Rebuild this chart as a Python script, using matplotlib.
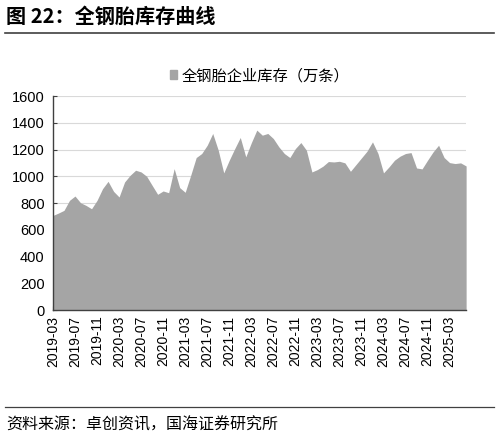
import numpy as np
import matplotlib
matplotlib.use('Agg')
import matplotlib.pyplot as plt
from matplotlib.patches import Patch

plt.rcParams['font.family'] = ['Liberation Sans', 'Noto Sans CJK SC', 'DejaVu Sans']

# 月份: 2019-03 ~ 2025-06
months = []
for y in range(2019, 2026):
    for m in range(1, 13):
        if (y == 2019 and m < 3) or (y == 2025 and m > 6):
            continue
        months.append(f'{y}-{m:02d}')

# 全钢胎企业库存 (万条)
inventory = [
    707, 725, 745, 820, 852, 802, 782, 757, 820, 907,
    962, 887, 845, 957, 1007, 1045, 1032, 1000, 932, 865,
    890, 877, 1057, 915, 880, 1007, 1140, 1170, 1232, 1320,
    1195, 1025, 1120, 1207, 1290, 1145, 1250, 1345, 1307, 1320,
    1282, 1220, 1170, 1140, 1207, 1252, 1195, 1032, 1050, 1075,
    1110, 1107, 1112, 1100, 1037, 1087, 1137, 1187, 1257, 1170,
    1025, 1070, 1120, 1150, 1170, 1177, 1062, 1055, 1120, 1182,
    1232, 1140, 1102, 1095, 1100, 1077,
]

fig = plt.figure(figsize=(4.98, 4.37), dpi=100)
ax = fig.add_axes([0.1064, 0.2906, 0.8296, 0.4897])

x = np.arange(len(months))
ax.fill_between(x, inventory, 0, color='#a5a5a5', linewidth=0, zorder=2)

ax.set_xlim(0, len(months) - 1)
ax.set_ylim(0, 1600)
ax.set_yticks(range(0, 1601, 200))
ax.set_xticks(x[::4])
ax.set_xticklabels(months[::4], rotation=90, fontsize=10)
ax.tick_params(axis='y', labelsize=10.5, direction='in', length=3, color='#404040', pad=6)
ax.tick_params(axis='x', direction='in', length=3, color='#404040', pad=4)
ax.grid(axis='y', color='#d9d9d9', linewidth=0.8, zorder=0)
for s in ['top', 'right']:
    ax.spines[s].set_visible(False)
for s in ['left', 'bottom']:
    ax.spines[s].set_color('#404040')
    ax.spines[s].set_linewidth(1.0)

# 图例
ax.legend(handles=[Patch(color='#a5a5a5', label='全钢胎企业库存（万条）')],
          loc='center', bbox_to_anchor=(0.5, 1.095), frameon=False,
          handlelength=0.5, handleheight=0.5, handletextpad=0.3,
          prop={'family': ['Noto Sans CJK SC'], 'size': 11})

# 标题 & 来源
fig.text(0.012, 0.962, '图 22：全钢胎库存曲线', fontsize=14.5, fontweight='bold',
         family=['Noto Sans CJK SC', 'DejaVu Sans'], va='center')
fig.add_artist(plt.Line2D([0.01, 0.992], [0.925, 0.925], color='#404040', lw=1.2))
fig.add_artist(plt.Line2D([0.01, 0.992], [0.069, 0.069], color='#404040', lw=0.9))
fig.text(0.012, 0.027, '资料来源：卓创资讯，国海证券研究所', fontsize=11.5,
         family=['Noto Sans CJK SC', 'DejaVu Sans'], va='center')

fig.savefig('out.png', dpi=100)
